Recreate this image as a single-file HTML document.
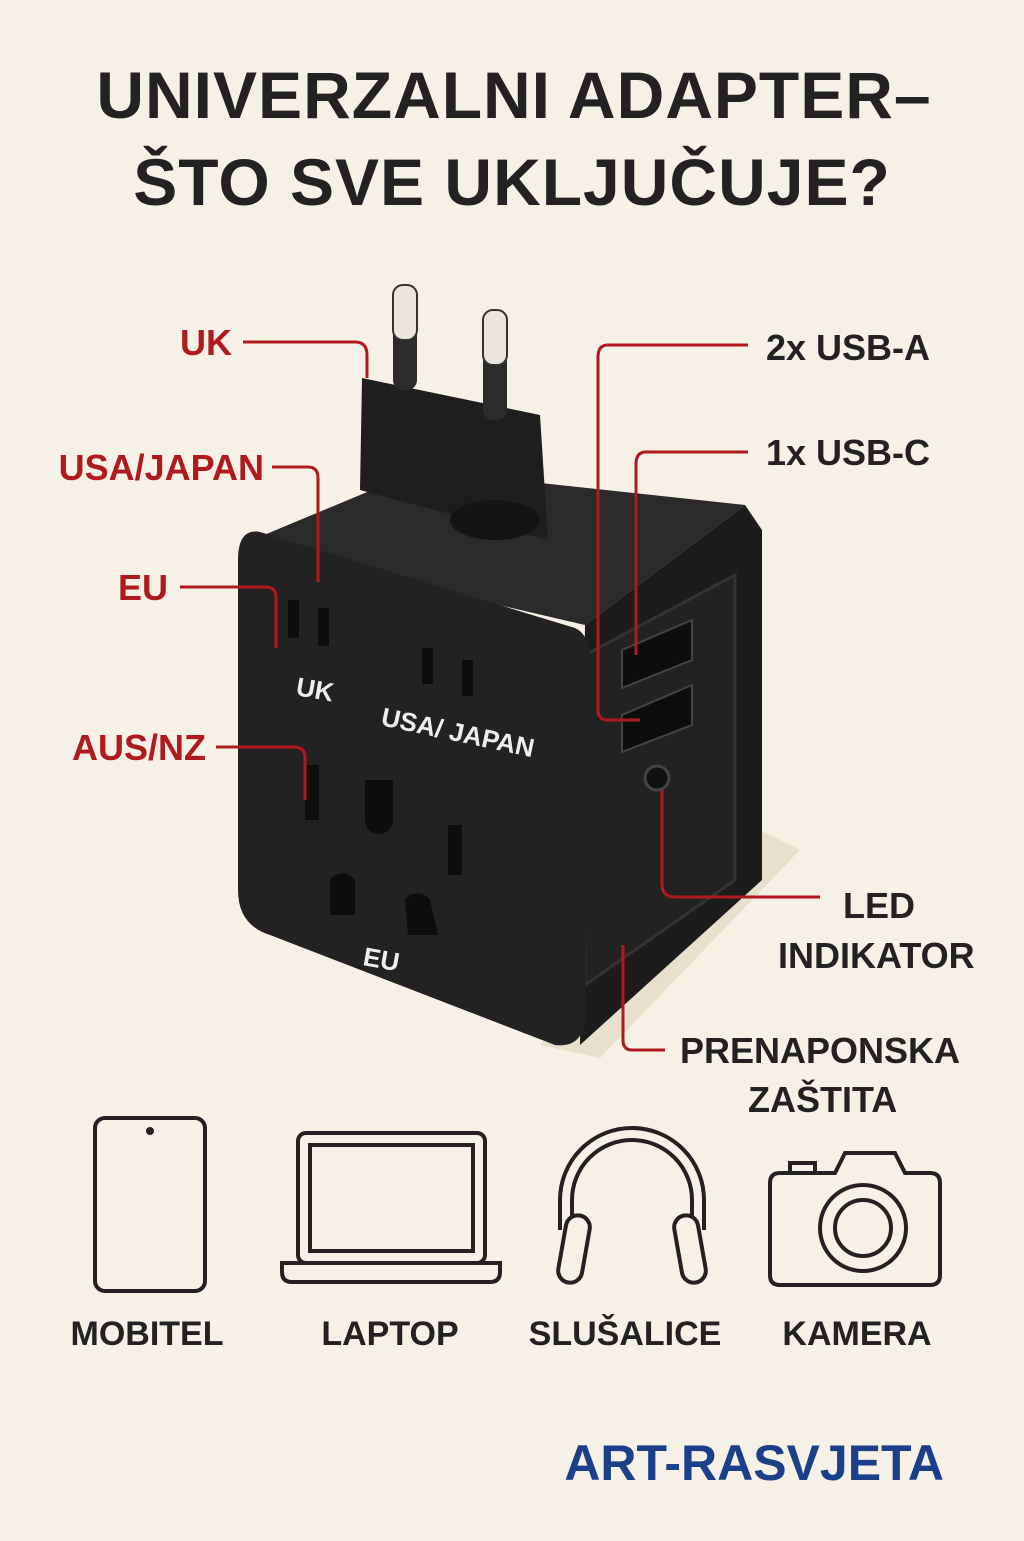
<!DOCTYPE html>
<html><head><meta charset="utf-8"><style>
body{margin:0;width:1024px;height:1536px;background:#f6f1e6;overflow:hidden;font-family:"Liberation Sans",sans-serif}
</style></head><body>
<svg width="1024" height="1536" viewBox="0 0 1024 1536" xmlns="http://www.w3.org/2000/svg" font-family="Liberation Sans, sans-serif">
<rect width="1024" height="1536" fill="#f6f1e6"/>
<g font-weight="bold" fill="#222" text-anchor="middle" font-size="66" letter-spacing="1">
<text x="514" y="118">UNIVERZALNI ADAPTER–</text>
<text x="512" y="205">ŠTO SVE UKLJUČUJE?</text>
</g>
<polygon points="540,1045 760,830 800,850 600,1058" fill="#e8dfcc"/>
<polygon points="240,545 420,470 745,505 585,625" fill="#2a2a2a"/>
<polygon points="585,625 745,505 762,530 762,880 580,1045" fill="#1c1c1c"/>
<polygon points="585,655 735,575 735,880 585,985" fill="#222" stroke="#333" stroke-width="3"/>
<path d="M260,532 L575,628 Q590,635 590,660 L585,1020 Q582,1048 555,1045 L270,935 Q238,925 238,890 L238,560 Q238,528 260,532 Z" fill="#222"/>
<polygon points="362,378 540,415 548,540 360,490" fill="#1e1e1e"/>
<ellipse cx="495" cy="520" rx="45" ry="20" fill="#141414"/>
<rect x="393" y="290" width="24" height="100" rx="10" fill="#2b2b2b"/>
<rect x="393" y="285" width="24" height="55" rx="10" fill="#e9e6de" stroke="#333" stroke-width="2"/>
<rect x="483" y="315" width="24" height="105" rx="10" fill="#2b2b2b"/>
<rect x="483" y="310" width="24" height="55" rx="10" fill="#e9e6de" stroke="#333" stroke-width="2"/>
<g fill="#0d0d0d">
<rect x="288" y="600" width="11" height="38"/><rect x="318" y="608" width="11" height="38"/>
<rect x="422" y="648" width="11" height="36"/><rect x="462" y="660" width="11" height="36"/>
<rect x="305" y="765" width="14" height="55"/><rect x="448" y="825" width="14" height="50"/>
<path d="M365,780 h28 v40 a14,14 0 0 1 -28,0z"/>
<path d="M330,880 a15,15 0 0 1 25,0 l0,35 h-25z"/><path d="M405,900 a15,15 0 0 1 25,0 l8,35 h-30z"/>
</g>
<g fill="#eee" font-size="26" font-weight="bold">
<text x="295" y="695" transform="rotate(10 295 695)">UK</text>
<text x="380" y="725" transform="rotate(12 380 725)">USA/ JAPAN</text>
<text x="362" y="965" transform="rotate(10 362 965)">EU</text>
</g>
<g fill="#0d0d0d" stroke="#444" stroke-width="2">
<polygon points="622,650 692,620 692,660 622,688"/>
<polygon points="622,715 692,685 692,725 622,752"/>
</g>
<circle cx="657" cy="778" r="12" fill="#111" stroke="#444" stroke-width="3"/>
<g stroke="#b0191e" stroke-width="3" fill="none">
<path d="M243,342 H355 Q367,342 367,355 V378"/>
<path d="M272,467 H308 Q318,467 318,478 V582"/>
<path d="M180,587 H266 Q276,587 276,598 V648"/>
<path d="M216,747 H294 Q305,747 305,758 V800"/>
<path d="M748,345 H608 Q598,345 598,357 V710 Q598,720 608,720 H640"/>
<path d="M748,452 H646 Q636,452 636,464 V655"/>
<path d="M820,897 H675 Q662,897 662,884 V790"/>
<path d="M665,1050 H632 Q623,1050 623,1040 V945"/>
</g>
<g fill="#b0191e" font-size="36" font-weight="bold" text-anchor="end">
<text x="232" y="355">UK</text>
<text x="264" y="480">USA/JAPAN</text>
<text x="168" y="600">EU</text>
<text x="206" y="760">AUS/NZ</text>
</g>
<g fill="#222" font-size="36" font-weight="bold">
<text x="766" y="360">2x USB-A</text>
<text x="766" y="465">1x USB-C</text>
<text x="843" y="918">LED</text>
<text x="778" y="968">INDIKATOR</text>
<text x="680" y="1063">PRENAPONSKA</text>
<text x="748" y="1112">ZAŠTITA</text>
</g>
<g stroke="#222" stroke-width="4" fill="none">
<rect x="95" y="1118" width="110" height="173" rx="10"/>
<rect x="298" y="1133" width="187" height="130" rx="8"/>
<rect x="310" y="1145" width="163" height="106"/>
<path d="M282,1263 H500 V1272 Q500,1282 490,1282 H292 Q282,1282 282,1272 Z"/>
<path d="M560,1230 V1200 A72,72 0 0 1 704,1200 V1230"/>
<path d="M572,1225 V1200 A60,60 0 0 1 692,1200 V1225"/>
<rect x="562" y="1215" width="24" height="68" rx="12" transform="rotate(10 574 1249)" fill="#f6f1e6"/>
<rect x="678" y="1215" width="24" height="68" rx="12" transform="rotate(-10 690 1249)" fill="#f6f1e6"/>
<path d="M790,1173 V1163 H815 V1173"/>
<path d="M770,1183 Q770,1173 780,1173 H835 L845,1153 H895 L905,1173 H930 Q940,1173 940,1183 V1275 Q940,1285 930,1285 H780 Q770,1285 770,1275 Z"/>
<circle cx="863" cy="1228" r="43"/><circle cx="863" cy="1228" r="28"/>
</g>
<circle cx="150" cy="1131" r="4" fill="#222"/>
<g fill="#222" font-size="34" font-weight="bold" text-anchor="middle">
<text x="147" y="1345">MOBITEL</text>
<text x="390" y="1345">LAPTOP</text>
<text x="625" y="1345">SLUŠALICE</text>
<text x="857" y="1345">KAMERA</text>
</g>
<text x="944" y="1480" text-anchor="end" fill="#1c3f8a" font-size="50" font-weight="bold">ART-RASVJETA</text>
</svg>
</body></html>
